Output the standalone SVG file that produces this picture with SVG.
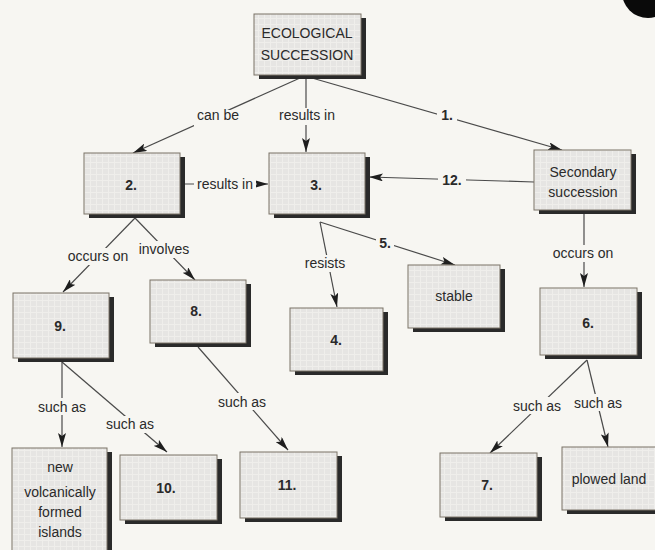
<svg xmlns="http://www.w3.org/2000/svg" width="655" height="550" viewBox="0 0 655 550">
<defs>
<pattern id="grid" width="6" height="6" patternUnits="userSpaceOnUse">
<rect width="6" height="6" fill="#e6e5e3"/>
<path d="M0,0.5 H6 M0.5,0 V6" stroke="#efeeeb" stroke-width="1"/>
</pattern>
<marker id="ah" viewBox="0 0 14 8" refX="14" refY="4" markerWidth="14" markerHeight="8" markerUnits="userSpaceOnUse" orient="auto">
<path d="M0,0 L14,4 L0,8 L3,4 z" fill="#1e1e1e"/>
</marker>
<style>
.box{fill:url(#grid);stroke:#7a7266;stroke-width:1}
.sh{fill:#2a2a2a}
.t{font-family:"Liberation Sans",Arial,sans-serif;font-size:14px;fill:#2a2a2a;text-anchor:middle}
.b{font-weight:bold}
.ln{stroke:#4a4a4a;stroke-width:1.2;fill:none}
.ar{marker-end:url(#ah)}
.lb{fill:#f7f6f2}
</style>
</defs>
<rect width="655" height="550" fill="#f7f6f2"/>
<circle cx="648" cy="-8" r="26" fill="#0a0a0a"/>

<g id="connectors">
<line class="ln ar" x1="300" y1="78" x2="133" y2="153"/>
<line class="ln ar" x1="306" y1="78" x2="306" y2="152"/>
<line class="ln ar" x1="312" y1="78" x2="562" y2="150"/>
<line class="ln ar" x1="180" y1="184" x2="268" y2="184"/>
<line class="ln ar" x1="534" y1="182" x2="369" y2="177"/>
<line class="ln ar" x1="135" y1="218" x2="63" y2="292"/>
<line class="ln ar" x1="135" y1="218" x2="195" y2="280"/>
<line class="ln ar" x1="320" y1="222" x2="337" y2="307"/>
<line class="ln ar" x1="320" y1="222" x2="455" y2="265"/>
<line class="ln ar" x1="584" y1="214" x2="584" y2="287"/>
<line class="ln ar" x1="62" y1="362" x2="62" y2="447"/>
<line class="ln ar" x1="62" y1="362" x2="167" y2="452"/>
<line class="ln ar" x1="198" y1="347" x2="288" y2="450"/>
<line class="ln ar" x1="587" y1="360" x2="490" y2="453"/>
<line class="ln ar" x1="587" y1="360" x2="608" y2="447"/>

<rect class="lb" x="194" y="110" width="48" height="17"/>
<text class="t" x="218" y="120">can be</text>
<rect class="lb" x="276" y="108" width="62" height="17"/>
<text class="t" x="307" y="120">results in</text>
<rect class="lb" x="437" y="110" width="20" height="17"/>
<text class="t b" x="447" y="120">1.</text>
<rect class="lb" x="194" y="176" width="62" height="17"/>
<text class="t" x="225" y="189">results in</text>
<rect class="lb" x="438" y="172" width="28" height="17"/>
<text class="t b" x="452" y="185">12.</text>
<rect class="lb" x="66" y="248" width="64" height="17"/>
<text class="t" x="98" y="261">occurs on</text>
<rect class="lb" x="137" y="241" width="54" height="17"/>
<text class="t" x="164" y="254">involves</text>
<rect class="lb" x="302" y="255" width="46" height="17"/>
<text class="t" x="325" y="268">resists</text>
<rect class="lb" x="376" y="234" width="18" height="17"/>
<text class="t b" x="385" y="248">5.</text>
<rect class="lb" x="551" y="245" width="64" height="17"/>
<text class="t" x="583" y="258">occurs on</text>
<rect class="lb" x="37" y="398" width="50" height="17"/>
<text class="t" x="62" y="412">such as</text>
<rect class="lb" x="105" y="416" width="50" height="17"/>
<text class="t" x="130" y="429">such as</text>
<rect class="lb" x="217" y="393" width="50" height="17"/>
<text class="t" x="242" y="407">such as</text>
<rect class="lb" x="512" y="397" width="50" height="17"/>
<text class="t" x="537" y="411">such as</text>
<rect class="lb" x="573" y="394" width="50" height="17"/>
<text class="t" x="598" y="408">such as</text>
</g>

<g id="n-eco">
<rect class="sh" x="259" y="18" width="107" height="61"/>
<rect class="box" x="254" y="14" width="107" height="61"/>
<text class="t" x="307" y="38">ECOLOGICAL</text>
<text class="t" x="307" y="60">SUCCESSION</text>
</g>
<g id="n-2">
<rect class="sh" x="89" y="157" width="96" height="61"/>
<rect class="box" x="84" y="153" width="96" height="61"/>
<text class="t b" x="131" y="190">2.</text>
</g>
<g id="n-3">
<rect class="sh" x="274" y="157" width="96" height="61"/>
<rect class="box" x="269" y="153" width="96" height="61"/>
<text class="t b" x="316" y="190">3.</text>
</g>
<g id="n-secondary">
<rect class="sh" x="539" y="154" width="97" height="60"/>
<rect class="box" x="534" y="150" width="97" height="60"/>
<text class="t" x="583" y="177">Secondary</text>
<text class="t" x="583" y="197">succession</text>
</g>
<g id="n-9">
<rect class="sh" x="18" y="297" width="96" height="65"/>
<rect class="box" x="13" y="293" width="96" height="65"/>
<text class="t b" x="60" y="331">9.</text>
</g>
<g id="n-8">
<rect class="sh" x="155" y="284" width="96" height="63"/>
<rect class="box" x="150" y="280" width="96" height="63"/>
<text class="t b" x="196" y="316">8.</text>
</g>
<g id="n-4">
<rect class="sh" x="295" y="312" width="93" height="63"/>
<rect class="box" x="290" y="308" width="93" height="63"/>
<text class="t b" x="336" y="345">4.</text>
</g>
<g id="n-stable">
<rect class="sh" x="413" y="269" width="92" height="63"/>
<rect class="box" x="408" y="265" width="92" height="63"/>
<text class="t" x="454" y="301">stable</text>
</g>
<g id="n-6">
<rect class="sh" x="545" y="292" width="97" height="67"/>
<rect class="box" x="540" y="288" width="97" height="67"/>
<text class="t b" x="588" y="328">6.</text>
</g>
<g id="n-volcanic">
<rect class="sh" x="17" y="452" width="95" height="104"/>
<rect class="box" x="12" y="448" width="95" height="104"/>
<text class="t" x="60" y="472">new</text>
<text class="t" x="60" y="497">volcanically</text>
<text class="t" x="60" y="517">formed</text>
<text class="t" x="60" y="537">islands</text>
</g>
<g id="n-10">
<rect class="sh" x="125" y="459" width="97" height="65"/>
<rect class="box" x="120" y="455" width="97" height="65"/>
<text class="t b" x="166" y="493">10.</text>
</g>
<g id="n-11">
<rect class="sh" x="245" y="456" width="97" height="66"/>
<rect class="box" x="240" y="452" width="97" height="66"/>
<text class="t b" x="287" y="490">11.</text>
</g>
<g id="n-7">
<rect class="sh" x="445" y="457" width="97" height="64"/>
<rect class="box" x="440" y="453" width="97" height="64"/>
<text class="t b" x="487" y="490">7.</text>
</g>
<g id="n-plowed">
<rect class="sh" x="567" y="451" width="97" height="63"/>
<rect class="box" x="562" y="447" width="97" height="63"/>
<text class="t" x="609" y="484">plowed land</text>
</g>
</svg>
